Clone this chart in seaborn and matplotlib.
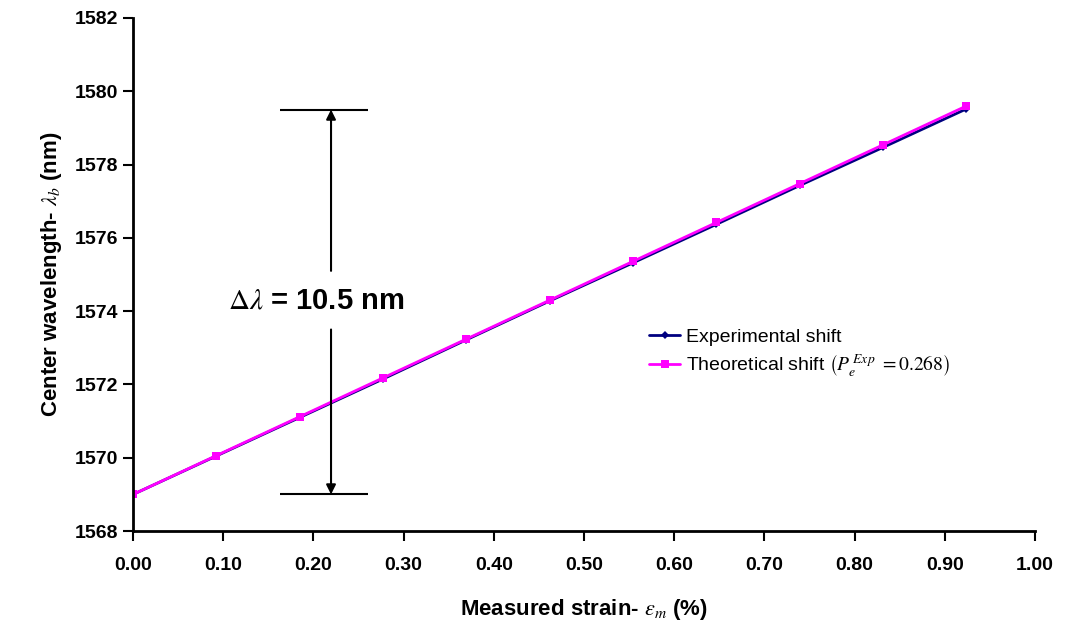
import numpy as np
import pandas as pd
import matplotlib
matplotlib.use('Agg')
import seaborn as sns
import matplotlib.pyplot as plt

strain = [0.0, 0.0924, 0.1848, 0.2772, 0.3696, 0.462, 0.5544, 0.6468, 0.7392, 0.8316, 0.924]
exp_shift = [1569.00, 1570.05, 1571.10, 1572.15, 1573.22, 1574.28, 1575.32, 1576.37, 1577.43, 1578.47, 1579.52]
theo_shift = [1569.00, 1570.06, 1571.12, 1572.18, 1573.24, 1574.30, 1575.36, 1576.42, 1577.48, 1578.54, 1579.60]

sns.set_style("ticks")
plt.rcParams['font.family'] = ['Liberation Sans', 'DejaVu Sans']
plt.rcParams['mathtext.fontset'] = 'stix'
plt.rcParams.update({'text.color': 'black', 'axes.labelcolor': 'black',
                     'xtick.color': 'black', 'ytick.color': 'black'})

fig, ax = plt.subplots(figsize=(10.67, 6.36), dpi=100)
fig.subplots_adjust(left=0.1247, right=0.970, top=0.9717, bottom=0.165)

sns.lineplot(x=strain, y=exp_shift, ax=ax, color='#000080', marker='D', markersize=4,
             markeredgewidth=0, lw=2, label='Experimental shift')
sns.lineplot(x=strain, y=theo_shift, ax=ax, color='#FF00FF', marker='s', markersize=6,
             markeredgewidth=0, lw=2, label=r'Theoretical shift $\left(P_e^{\,Exp}\ = 0.268\right)$')

ax.set_xlim(0, 1.0)
ax.set_ylim(1568, 1582)
ax.set_xticks(np.arange(0, 1.01, 0.1))
ax.set_xticklabels(['%.2f' % v for v in np.arange(0, 1.01, 0.1)])
ax.set_yticks(np.arange(1568, 1583, 2))
ax.tick_params(axis='both', direction='out', length=7, width=1.5, labelsize=14, color='black')
for lb in ax.get_xticklabels() + ax.get_yticklabels():
    lb.set_fontweight('bold')
ax.tick_params(axis='x', pad=12)
sns.despine(ax=ax)
for s in ['left', 'bottom']:
    ax.spines[s].set_linewidth(2)
    ax.spines[s].set_color('black')

ax.set_xlabel(r'Measured strain- $\varepsilon_m$ (%)', fontsize=16, fontweight='bold', labelpad=16)
ax.set_ylabel(r'Center wavelength- $\lambda_b$ (nm)', fontsize=16, fontweight='bold', labelpad=8)

# delta lambda annotation
ax.hlines([1579.5, 1569.0], 0.163, 0.2605, color='black', lw=1.5)
ax.annotate('', xy=(0.2195, 1579.5), xytext=(0.2195, 1575.1),
            arrowprops=dict(arrowstyle='-|>', color='black', lw=1.5, mutation_scale=14, shrinkA=0, shrinkB=0))
ax.annotate('', xy=(0.2195, 1569.0), xytext=(0.2195, 1573.5),
            arrowprops=dict(arrowstyle='-|>', color='black', lw=1.5, mutation_scale=14, shrinkA=0, shrinkB=0))
ax.text(0.203, 1574.3, r'$\Delta\lambda$ = 10.5 nm', fontsize=21, fontweight='bold',
        ha='center', va='center')

leg = ax.legend(loc='upper left', bbox_to_anchor=(0.553, 0.43), frameon=False, fontsize=14,
                handlelength=1.6, handletextpad=0.3, labelspacing=0.35)

plt.savefig('out.png', dpi=100)
